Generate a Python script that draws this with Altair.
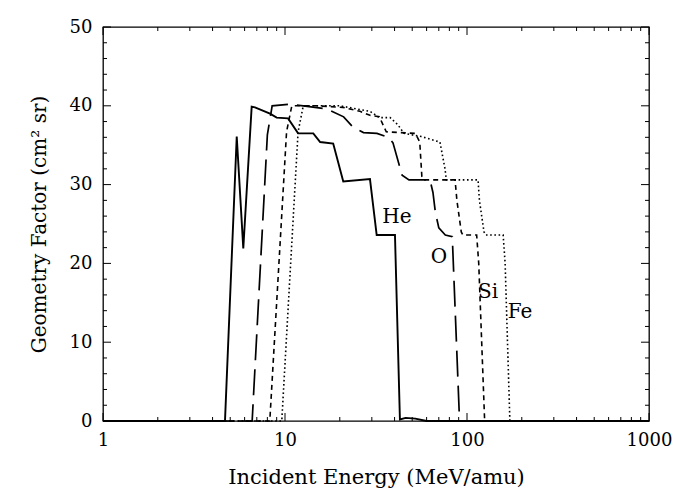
import altair as alt
import pandas as pd

# ---------------- data ----------------
he_E = [1, 4.68, 5.43, 5.90, 6.56, 6.84, 8.27, 9.0, 10.4, 11.8, 14.3, 15.6, 18.4, 20.9, 29.3, 31.9, 40.2, 42.8, 46, 52, 60, 1000]
he_G = [0, 0, 36.1, 21.9, 39.9, 39.8, 39.0, 38.5, 38.4, 36.5, 36.5, 35.4, 35.2, 30.4, 30.7, 23.6, 23.6, 0.2, 0.4, 0.3, 0, 0]

o_E = [1, 6.6, 8.0, 8.5, 10.6, 12.6, 17, 21, 23.6, 27, 32, 37, 39.2, 44, 48, 62.6, 65, 67, 70, 76, 83, 91, 1000]
o_G = [0, 0, 36.3, 40, 40.2, 40, 39.6, 38.6, 37.3, 36.6, 36.5, 36.0, 35.3, 31.2, 30.6, 30.6, 29, 26.5, 24.5, 23.6, 23.4, 0, 0]

si_E = [1, 8.25, 10.2, 10.9, 15, 20.8, 25.8, 29.3, 33, 36, 52, 55, 56.5, 58, 86, 88, 93, 95, 113, 116, 125, 1000]
si_G = [0, 0, 36.7, 40, 40, 39.8, 39.3, 38.8, 38.6, 36.7, 36.5, 35.4, 31, 30.6, 30.6, 28, 24, 23.6, 23.6, 20, 0, 0]

fe_E = [1, 9.6, 11.8, 12.6, 20, 29.3, 33, 37.8, 41.7, 45, 56, 71, 75.7, 77, 115, 117, 124, 127, 158, 162, 172, 1000]
fe_G = [0, 0, 36.7, 40, 40, 39.3, 38.5, 38.5, 37.6, 36.5, 36.1, 35.4, 32, 30.6, 30.6, 28, 24, 23.6, 23.6, 20, 0, 0]

label_text = ["He", "O", "Si", "Fe"]
label_E = [41.2, 70.2, 130.4, 195.5]
label_G = [25.9, 20.8, 16.4, 13.8]

x_major = [1, 10, 100, 1000]
x_minor = [2, 3, 4, 5, 6, 7, 8, 9, 20, 30, 40, 50, 60, 70, 80, 90, 200, 300, 400, 500, 600, 700, 800, 900]
y_major = [0, 10, 20, 30, 40, 50]
y_minor = [2, 4, 6, 8, 12, 14, 16, 18, 22, 24, 26, 28, 32, 34, 36, 38, 42, 44, 46, 48]

# ---------------- chart ----------------
FONT = "DejaVu Serif"
W, H = 546, 394

xscale = alt.Scale(type="log", domain=[1, 1000], nice=False)
yscale = alt.Scale(domain=[0, 50], nice=False, zero=True)

xaxis = alt.Axis(values=x_major, format="d", ticks=False, domain=False, grid=False,
                 labelFont=FONT, labelFontSize=18, labelColor="black", labelPadding=10,
                 labelFlush=False, labelOverlap=False,
                 title="Incident Energy (MeV/amu)", titleFont=FONT, titleFontSize=21,
                 titleFontWeight="normal", titleColor="black", titlePadding=17)
yaxis = alt.Axis(values=y_major, ticks=False, domain=False, grid=False,
                 labelFont=FONT, labelFontSize=18, labelColor="black", labelPadding=11,
                 title="Geometry Factor (cm² sr)", titleFont=FONT, titleFontSize=20,
                 titleFontWeight="normal", titleColor="black", titlePadding=20)


def X(field):
    return alt.X(field, scale=xscale, axis=xaxis)


def Y(field):
    return alt.Y(field, scale=yscale, axis=yaxis)


def frame(E, G):
    return pd.DataFrame({"E": E, "G": G, "i": list(range(len(E)))})


def curve(E, G, dash, width):
    mark = dict(color="black", strokeWidth=width, strokeCap="butt", strokeJoin="miter")
    if dash:
        mark["strokeDash"] = dash
    return alt.Chart(frame(E, G)).mark_line(**mark).encode(
        x=X("E:Q"), y=Y("G:Q"), order="i:Q",
    )


he = curve(he_E, he_G, None, 1.9)
o = curve(o_E, o_G, [26, 9], 1.7)
si = curve(si_E, si_G, [5, 4], 1.6)
fe = curve(fe_E, fe_G, [1.6, 2.6], 1.6)

labels = alt.Chart(pd.DataFrame({"E": label_E, "G": label_G, "t": label_text})).mark_text(
    font=FONT, fontSize=20, color="black", align="center", baseline="middle"
).encode(x=X("E:Q"), y=Y("G:Q"), text="t:N")


def yticks(vals, length):
    df = pd.DataFrame({"G": vals})
    left = alt.Chart(df).mark_rule(color="black", strokeWidth=1).encode(
        y=Y("G:Q"), x=alt.value(0), x2=alt.value(length))
    right = alt.Chart(df).mark_rule(color="black", strokeWidth=1).encode(
        y=Y("G:Q"), x=alt.value(W), x2=alt.value(W - length))
    return [left, right]


def xticks(vals, length):
    df = pd.DataFrame({"E": vals})
    bottom = alt.Chart(df).mark_rule(color="black", strokeWidth=1).encode(
        x=X("E:Q"), y=alt.value(H), y2=alt.value(H - length))
    top = alt.Chart(df).mark_rule(color="black", strokeWidth=1).encode(
        x=X("E:Q"), y=alt.value(0), y2=alt.value(length))
    return [bottom, top]


chart = alt.layer(
    he, o, si, fe, labels,
    *yticks(y_major, 8), *yticks(y_minor, 4),
    *xticks(x_major, 8), *xticks(x_minor, 4),
).properties(
    width=W, height=H,
    autosize=alt.AutoSizeParams(type="none"),
    padding={"left": 103, "top": 27, "right": 27, "bottom": 70},
    background="white",
).configure_view(stroke="black", strokeWidth=1.3)

chart.save("out.html", embed_options={"renderer": "svg", "actions": False})
